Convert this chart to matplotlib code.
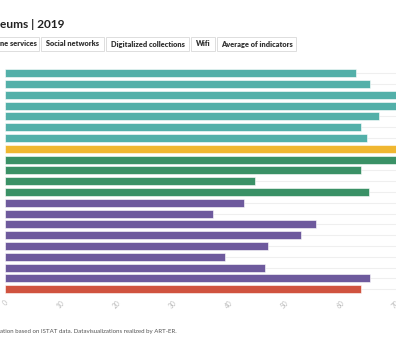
import matplotlib.pyplot as plt
from matplotlib.patches import Rectangle

# values (bars past 70 are cut at the right edge)
groups = ["teal"] * 7 + ["yellow"] + ["green"] * 4 + ["purple"] * 8 + ["red"]
values = [62.8, 65.3, 72.0, 74.0, 66.9, 63.8, 64.8,
          71.0,
          75.0, 63.8, 44.8, 65.1,
          42.8, 37.3, 55.7, 53.0, 47.1, 39.4, 46.6, 65.4,
          63.7]
xticks = [0, 10, 20, 30, 40, 50, 60, 70]
buttons = ["ne services", "Social networks", "Digitalized collections",
           "Wifi", "Average of indicators"]
title = "eums | 2019"
note = "ation based on ISTAT data. Datavisualizations realized by ART-ER."

colors = {"teal": "#53b0a9", "yellow": "#f0b731", "green": "#3a9166",
          "purple": "#6e5a9d", "red": "#d0533f"}

plt.rcParams['font.family'] = ['Lato', 'DejaVu Sans']

W, H = 396, 360
fig = plt.figure(figsize=(W / 100, H / 100), dpi=100)
ax = fig.add_axes([5 / W, 1 - 294.6 / H, 1 - 5 / W, (294.6 - 67.9) / H])

ypos = list(range(len(values)))
ax.barh(ypos, values, height=0.74,
        color=[colors[g] for g in groups],
        edgecolor="#ffffff", linewidth=0.4, zorder=2)
for y in ypos:
    ax.axhline(y, color="#efefef", lw=0.8, zorder=1)

ax.set_xlim(0, 70)
ax.set_ylim(len(values) - 0.5, -0.5)
ax.set_yticks([])
ax.set_xticks(xticks)
ax.set_xticklabels([str(t) for t in xticks], rotation=45, fontsize=4.8,
                   color="#bbbbbb", ha="center")
ax.tick_params(axis="x", length=0, pad=3.5)
for s in ax.spines.values():
    s.set_visible(False)

# title and button row
fig.text(0, 1 - 24 / H, title, fontsize=8.6, fontweight="bold",
         color="#222222", va="center", ha="left")

boxes = [(-30, 39), (41, 104), (106, 189), (191, 215), (217, 296)]
for (x0, x1), lab in zip(boxes, buttons):
    fig.patches.append(Rectangle((x0 / W, 1 - 50.7 / H), (x1 - x0) / W,
                                 13.4 / H, transform=fig.transFigure,
                                 facecolor="white", edgecolor="#dddddd",
                                 lw=0.7))
    if x0 < 0:
        fig.text(0.5 / W, 1 - 44 / H, lab, fontsize=5.3, fontweight="heavy",
                 color="#333333", va="center", ha="left")
    else:
        fig.text((x0 + x1) / 2 / W, 1 - 44 / H, lab, fontsize=5.3,
                 fontweight="heavy", color="#333333", va="center",
                 ha="center")

fig.text(0, 1 - 331 / H, note, fontsize=4.4, color="#555555",
         va="center", ha="left")

plt.savefig("out.png", dpi=100)
